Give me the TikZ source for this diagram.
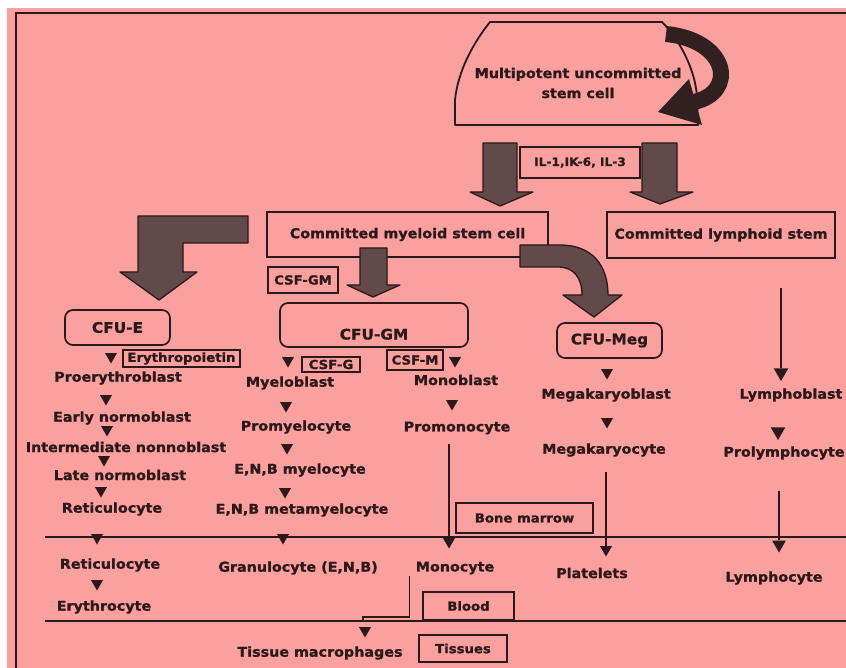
\documentclass[tikz,border=0pt]{standalone}
\usepackage{fontspec}
\setmainfont{DejaVu Sans}[FakeStretch=1.06,FakeBold=1.2]
\usetikzlibrary{shapes.geometric}
\definecolor{paper}{RGB}{250,160,158}
\definecolor{ink}{RGB}{45,25,25}
\definecolor{slabgrey}{RGB}{98,74,74}
\definecolor{curl}{RGB}{50,32,32}
\begin{document}
\begin{tikzpicture}[x=1pt,y=-1pt,
  lbl/.style={font=\fontsize{13.5}{15}\selectfont\bfseries, text=ink, inner sep=1pt},
  cfulbl/.style={font=\fontsize{14.5}{16}\selectfont\bfseries, text=ink},
  taglbl/.style={font=\fontsize{12.5}{14}\selectfont\bfseries, text=ink},
  box/.style={draw=ink, line width=1.7pt, rectangle, inner sep=2pt},
  rbox/.style={box, rounded corners=8pt},
  headmark/.style={regular polygon, regular polygon sides=3, shape border rotate=180,
                   fill=ink, inner sep=0pt, minimum size=14pt},
  link/.style={draw=ink, line width=1.2pt},
  fatarrow/.style={fill=slabgrey, draw=ink, line width=1.3pt, line join=round},
  zoneline/.style={draw=ink, line width=1.9pt}]
\useasboundingbox (0,0) rectangle (846,668);
\fill[white] (0,0) rectangle (846,668);
\fill[paper] (7,8) rectangle (846,668);
% frame
\draw[zoneline, line width=2.4pt] (16,668) -- (16,13) -- (846,13);

% multipotent stem cell
\draw[ink, line width=1.8pt, line join=round] (490,22) -- (662,22)
  .. controls (682,42) and (697,75) .. (697,100) -- (698,125) -- (455,125) -- (455,100)
  .. controls (458,70) and (474,42) .. (490,22) -- cycle;
\node[lbl, font=\fontsize{13.5}{20}\selectfont\bfseries, align=center] (stem) at (578,83)
  {Multipotent uncommitted\\stem cell};
% self renewal
\draw[curl, line width=16pt] (666,34) .. controls (728,40) and (738,92) .. (694,102);
\fill[curl] (658,112) -- (689,79) -- (702,125) -- cycle;

% cytokines and first split
\node[box, taglbl, font=\fontsize{11.5}{13}\selectfont\bfseries, minimum width=120pt,
  minimum height=31pt] (il) at (580,162.5) {IL-1,IK-6, IL-3};
\filldraw[fatarrow] (483,143) -- (517,143) -- (517,192) -- (533,192) -- (500,206)
  -- (470,192) -- (483,192) -- cycle;
\filldraw[fatarrow] (642,143) -- (677,143) -- (677,192) -- (693,192) -- (660,204)
  -- (630,192) -- (642,192) -- cycle;

\node[box, lbl, inner sep=2pt, minimum width=281pt, minimum height=45pt] (myeloid)
  at (407.5,234.5) {Committed myeloid stem cell};
\node[box, lbl, inner sep=2pt, minimum width=228pt, minimum height=46pt] (lymphoid)
  at (721,235) {Committed lymphoid stem};

% myeloid branches
\filldraw[fatarrow] (248,216) -- (138,216) -- (138,272) -- (120,272) -- (159,300)
  -- (197,272) -- (183,272) -- (183,243) -- (248,243) -- cycle;
\filldraw[fatarrow] (360,248) -- (387,248) -- (387,285) -- (400,285) -- (373,297)
  -- (347,285) -- (360,285) -- cycle;
\filldraw[fatarrow] (520,245) -- (560,245) .. controls (592,245) and (608,265) .. (608,295)
  -- (622,295) -- (594,317) -- (563,295) -- (582,295)
  .. controls (582,278) and (574,267) .. (558,267) -- (520,267) -- cycle;

\node[box, taglbl, minimum width=70pt, minimum height=26pt] (csfgm) at (303,280) {CSF-GM};
\node[rbox, cfulbl, minimum width=105pt, minimum height=35pt] (cfue) at (117.5,327.5) {CFU-E};
\node[rbox, cfulbl, minimum width=188pt, minimum height=44pt, text height=32pt,
  text depth=3pt] (cfugm) at (374,325) {CFU-GM};
\node[rbox, cfulbl, minimum width=105pt, minimum height=35pt] (cfumeg) at (609.5,340.5) {CFU-Meg};

\node[box, taglbl, line width=1.4pt, inner sep=1pt, minimum width=117pt,
  minimum height=17pt] (epo) at (181.5,358.5) {Erythropoietin};
\node[box, taglbl, line width=1.4pt, inner sep=1pt, minimum width=58pt,
  minimum height=15pt] (csfg) at (331,364.5) {CSF-G};
\node[box, taglbl, line width=1.4pt, inner sep=1pt, minimum width=56pt,
  minimum height=20pt] (csfm) at (415,360) {CSF-M};

% erythroid line
\node[headmark] (e0) at (111,356.5) {};
\node[lbl] (proery) at (118,378) {Proerythroblast};
\node[headmark] (e1) at (106,398.5) {};
\node[lbl] (early) at (122,418) {Early normoblast};
\node[headmark] (e2) at (107,429.5) {};
\node[lbl] (inter) at (126,447) {Intermediate nonnoblast};
\node[headmark] (e3) at (104,459.5) {};
\node[lbl] (late) at (120,475) {Late normoblast};
\node[headmark] (e4) at (101,490.5) {};
\node[lbl] (retic) at (112,509) {Reticulocyte};
\node[headmark] (e5) at (97,537.5) {};
\node[lbl] (reticb) at (110,565) {Reticulocyte};
\node[headmark] (e6) at (97,583.5) {};
\node[lbl] (eryth) at (104,607) {Erythrocyte};

% granulocyte line
\node[headmark] (g0) at (288,360.5) {};
\node[lbl] (myelob) at (290,383) {Myeloblast};
\node[headmark] (g1) at (286,405.5) {};
\node[lbl] (promyelo) at (296,427) {Promyelocyte};
\node[headmark] (g2) at (287,447.5) {};
\node[lbl] (myelocyte) at (300,470) {E,N,B myelocyte};
\node[headmark] (g3) at (285,491.5) {};
\node[lbl] (meta) at (302,510) {E,N,B metamyelocyte};
\node[headmark] (g4) at (283,537.5) {};
\node[lbl] (gran) at (298,568) {Granulocyte (E,N,B)};

% monocyte line
\node[headmark] (m0) at (455,360.5) {};
\node[lbl] (monob) at (456,380) {Monoblast};
\node[headmark] (m1) at (452,403.5) {};
\node[lbl] (promono) at (457,428) {Promonocyte};
\node[headmark] (m2) at (449,541.5) {};
\node[lbl] (mono) at (455,568) {Monocyte};

% megakaryocyte line
\node[headmark] (k0) at (607,372.5) {};
\node[lbl] (megab) at (606,395) {Megakaryoblast};
\node[headmark] (k1) at (607,421.5) {};
\node[lbl] (megac) at (604,450) {Megakaryocyte};
\node[headmark] (k2) at (606,549.5) {};
\node[lbl] (plate) at (592,573) {Platelets};

% lymphoid line
\node[headmark, minimum size=17pt] (l0) at (781,372.5) {};
\node[lbl] (lymphob) at (791,395) {Lymphoblast};
\node[headmark, minimum size=17pt] (l1) at (778,431.5) {};
\node[lbl] (prolym) at (784,453) {Prolymphocyte};
\node[headmark, minimum size=16pt] (l2) at (779,544.5) {};
\node[lbl] (lymphoc) at (774,578) {Lymphocyte};

% compartments
\coordinate (marrowL) at (45,537);
\coordinate (marrowR) at (846,537);
\coordinate (bloodL) at (45,621);
\coordinate (bloodR) at (846,621);
\draw[zoneline] (marrowL) -- (marrowR);
\draw[zoneline] (bloodL) -- (bloodR);
\node[box, taglbl, minimum width=137pt, minimum height=30pt] (bm) at (524.5,518) {Bone marrow};
\node[box, taglbl, minimum width=91pt, minimum height=28pt] (blood) at (468.5,606) {Blood};
\node[box, taglbl, minimum width=88pt, minimum height=27pt] (tissues) at (463,648.5) {Tissues};

% long connectors
\coordinate (lymStart) at (781,288);
\draw[link] (lymStart) -- (l0);
\draw[link, shorten <=8pt] (m2.north |- promono.south) -- (m2);
\draw[link, shorten <=14pt] (k2.north |- megac.south) -- (k2);
\draw[link, shorten <=30pt] (l2.north |- prolym.south) -- (l2);

% monocytes leave for the tissues
\coordinate (macroStep) at (363,617);
\node[headmark] (t0) at (365,630.5) {};
\node[lbl] (tissmac) at (320,653) {Tissue macrophages};
\draw[link] ([xshift=-5pt]mono.south west) |- (macroStep) -- (macroStep |- bloodL);
\end{tikzpicture}
\end{document}
